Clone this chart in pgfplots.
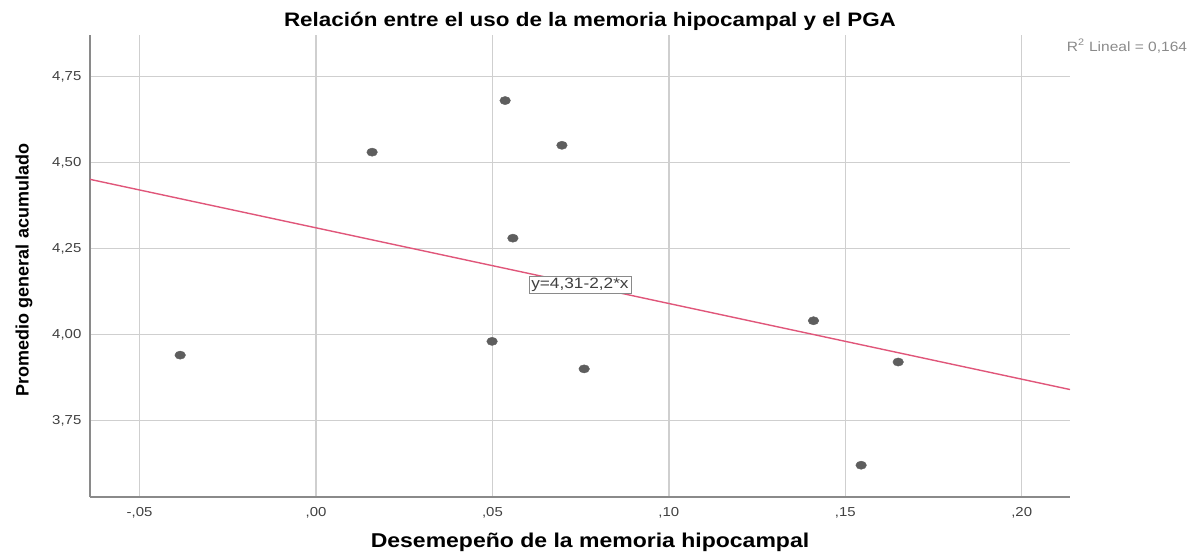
\documentclass[border=0pt]{standalone}
\usepackage{fontspec}
\setmainfont{Liberation Sans}
\usepackage{pgfplots}
\pgfplotsset{compat=1.18}
\definecolor{gridc}{HTML}{CFCFCF}
\definecolor{axc}{HTML}{8A8A8A}
\definecolor{markc}{HTML}{5E5E5E}
\definecolor{fitc}{HTML}{E0567A}
\definecolor{tickc}{HTML}{404040}
\begin{document}
\begin{tikzpicture}[x=1pt,y=1pt]
\useasboundingbox (0,0) rectangle (1194,554);
\begin{axis}[
  at={(90pt,57pt)}, anchor=south west,
  width=980pt, height=462pt, scale only axis,
  xmin=-0.06406, xmax=0.2137,
  ymin=3.5276, ymax=4.8706,
  axis x line=bottom, axis y line=left,
  axis line style={axc, line width=1.4pt, -},
  xtick={-0.05,0,0.05,0.1,0.15,0.2},
  xticklabels={{-,05},{,00},{,05},{,10},{,15},{,20}},
  ytick={3.75,4,4.25,4.5,4.75},
  yticklabels={{3,75},{4,00},{4,25},{4,50},{4,75}},
  major tick length=0pt,
  tick label style={font=\fontsize{13}{15}\selectfont, text=tickc, xscale=1.15},
  xticklabel style={yshift=-7pt},
  yticklabel style={xshift=-4pt},
  grid=major,
  major grid style={gridc, line width=1.4pt},
  clip=false,
]
\addplot[fitc, line width=1.4pt] coordinates {(-0.06406,4.451) (0.2137,3.840)};
\addplot[only marks, mark=*, mark size=4.1pt, mark options={xscale=1.3, fill=markc, draw=markc}] coordinates {
  (-0.0385,3.94) (0.0159,4.53) (0.0536,4.68) (0.0697,4.55) (0.0558,4.28)
  (0.0499,3.98) (0.0760,3.90) (0.1410,4.04) (0.1650,3.92) (0.1545,3.62)
};
\node[draw=axc, fill=white, line width=0.8pt, inner sep=2pt, text=tickc, font=\fontsize{15}{17}\selectfont, xscale=1.15] at (axis cs:0.0748,4.144) {y=4,31-2,2*x};
\end{axis}
\node[font=\bfseries\fontsize{19.5}{22}\selectfont, xscale=1.15] at (590,533) {Relación entre el uso de la memoria hipocampal y el PGA};
\node[font=\bfseries\fontsize{20}{22}\selectfont, xscale=1.15] at (590,12) {Desemepeño de la memoria hipocampal};
\node[font=\bfseries\fontsize{18}{20}\selectfont, rotate=90] at (24,284) {Promedio general acumulado};
\node[font=\fontsize{13.5}{15}\selectfont, text=axc, xscale=1.15] at (1127,508) {R\textsuperscript{2} Lineal = 0,164};
\end{tikzpicture}
\end{document}
